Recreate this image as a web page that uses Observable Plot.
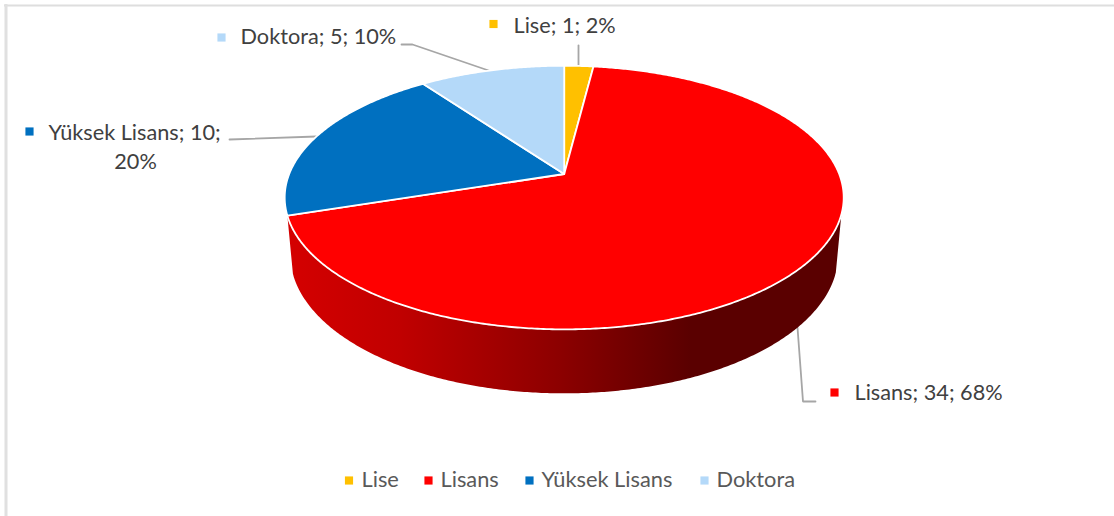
<!DOCTYPE html>
<html>
<head>
<meta charset="utf-8">
<script src="https://cdn.jsdelivr.net/npm/d3@7"></script>
<script src="https://cdn.jsdelivr.net/npm/@observablehq/plot@0.6"></script>
<style>html,body{margin:0;padding:0;background:#fff}svg{display:block}</style>
</head>
<body>
<div id="chart"></div>
<script>
// Data
const categories = ["Lise", "Lisans", "Yüksek Lisans", "Doktora"];
const counts = [1, 34, 10, 5];
const percents = [2, 68, 20, 10];
const colors = ["#ffc000", "#ff0000", "#0070c0", "#b4d9f9"];

// Layout (separate from the data)
const W = 1114, H = 516;
const apex = {x: 563.7, y: 173.5};
const persp = {k: 0.1787, a: 275, b: 127.6};
const deg = Math.PI / 180;
const total = d3.sum(counts);

function topPt(t) {
  const u = Math.sin(t), v = Math.cos(t), d = 1 + persp.k * v;
  return [apex.x + persp.a * u / d, apex.y - persp.b * v / d];
}
function bottomPt(t) {
  const [x, y] = topPt(t), v = Math.cos(t);
  return [apex.x + (x - apex.x) * 0.98, y + 55.5 - 8.5 * v];
}
function arc(fn, t0, t1) {
  const n = Math.max(2, Math.ceil(Math.abs(t1 - t0) / (0.5 * deg)));
  return d3.range(n + 1).map(i => fn(t0 + (t1 - t0) * i / n));
}
let acc = 0;
const slices = categories.map((c, i) => {
  const t0 = acc / total * 2 * Math.PI;
  acc += counts[i];
  const t1 = acc / total * 2 * Math.PI;
  return {c, color: colors[i], pts: [[apex.x, apex.y], ...arc(topPt, t0, t1), [apex.x, apex.y]]};
});

const wallStart = 107.5 * deg, wallEnd = 252 * deg;
const wall = [...arc(topPt, wallStart, wallEnd), ...arc(bottomPt, wallEnd, wallStart)];

const leaders = [
  [[578, 45], [578, 67]],
  [[401, 44], [412, 44], [491, 71]],
  [[229, 139], [316, 136]],
  [[797, 327], [802.5, 401], [815, 401]]
];
const labels = [
  {text: `${categories[0]}; ${counts[0]}; ${percents[0]}%`, x: 513, y: 26, mx: 493, my: 23.5, c: colors[0]},
  {text: `${categories[3]}; ${counts[3]}; ${percents[3]}%`, x: 240, y: 37, mx: 221, my: 37, c: colors[3]},
  {text: `${categories[2]}; ${counts[2]};`, x: 48, y: 133, mx: 29, my: 131, c: colors[2]},
  {text: `${categories[1]}; ${counts[1]}; ${percents[1]}%`, x: 854, y: 393, mx: 834, my: 392, c: colors[1]}
];
const legendX = [
  {sx: 348.5, tx: 361}, {sx: 428, tx: 440}, {sx: 529, tx: 541}, {sx: 704, tx: 716}
];
const legend = categories.map((c, i) => ({c, color: colors[i], ...legendX[i]}));
const wallStops = [[0, "#d40000"], [0.275, "#c00000"], [0.675, "#8c0000"], [1, "#5a0000"]];

const font = "Lato, Carlito, Calibri, sans-serif";
const lineOf = (pts, o) => Plot.line(pts, {x: d => d[0], y: d => d[1], curve: "linear", ...o});

const chart = Plot.plot({
  width: W, height: H, margin: 0,
  x: {domain: [0, W], range: [0, W], axis: null},
  y: {domain: [0, H], range: [0, H], axis: null},
  style: {background: "#fff", fontFamily: font},
  marks: [
    () => {
      const defs = d3.create("svg:defs");
      const g = defs.append("linearGradient").attr("id", "wallGrad")
        .attr("gradientUnits", "userSpaceOnUse")
        .attr("x1", 290).attr("x2", 690).attr("y1", 0).attr("y2", 0);
      wallStops.forEach(([o, c]) => g.append("stop").attr("offset", o).attr("stop-color", c));
      return defs.node();
    },
    Plot.ruleY([5], {x1: 4, x2: W, stroke: "#dedede", strokeWidth: 2}),
    Plot.ruleX([5.5], {y1: 4, y2: H, stroke: "#e0e0e0", strokeWidth: 3}),
    ...leaders.map(l => lineOf(l, {stroke: "#a6a6a6", strokeWidth: 1.8})),
    lineOf(wall, {fill: "url(#wallGrad)", stroke: "none"}),
    ...slices.map(s => lineOf(s.pts, {fill: s.color, stroke: "#fff", strokeWidth: 1.8, strokeLinejoin: "round"})),
    Plot.dot(labels, {x: "mx", y: "my", symbol: "square", r: 4.6, fill: "c", stroke: "none"}),
    Plot.text(labels, {x: "x", y: "y", text: "text", textAnchor: "start", fontSize: 21.7, fill: "#404040"}),
    Plot.text([`${percents[2]}%`], {x: () => 135, y: () => 162, text: d => d, textAnchor: "middle", fontSize: 21.7, fill: "#404040"}),
    Plot.dot(legend, {x: "sx", y: () => 480, symbol: "square", r: 4.6, fill: "color", stroke: "none"}),
    Plot.text(legend, {x: "tx", y: () => 480, text: "c", textAnchor: "start", fontSize: 21.8, fill: "#595959"})
  ]
});
document.getElementById("chart").append(chart);
</script>
</body>
</html>
